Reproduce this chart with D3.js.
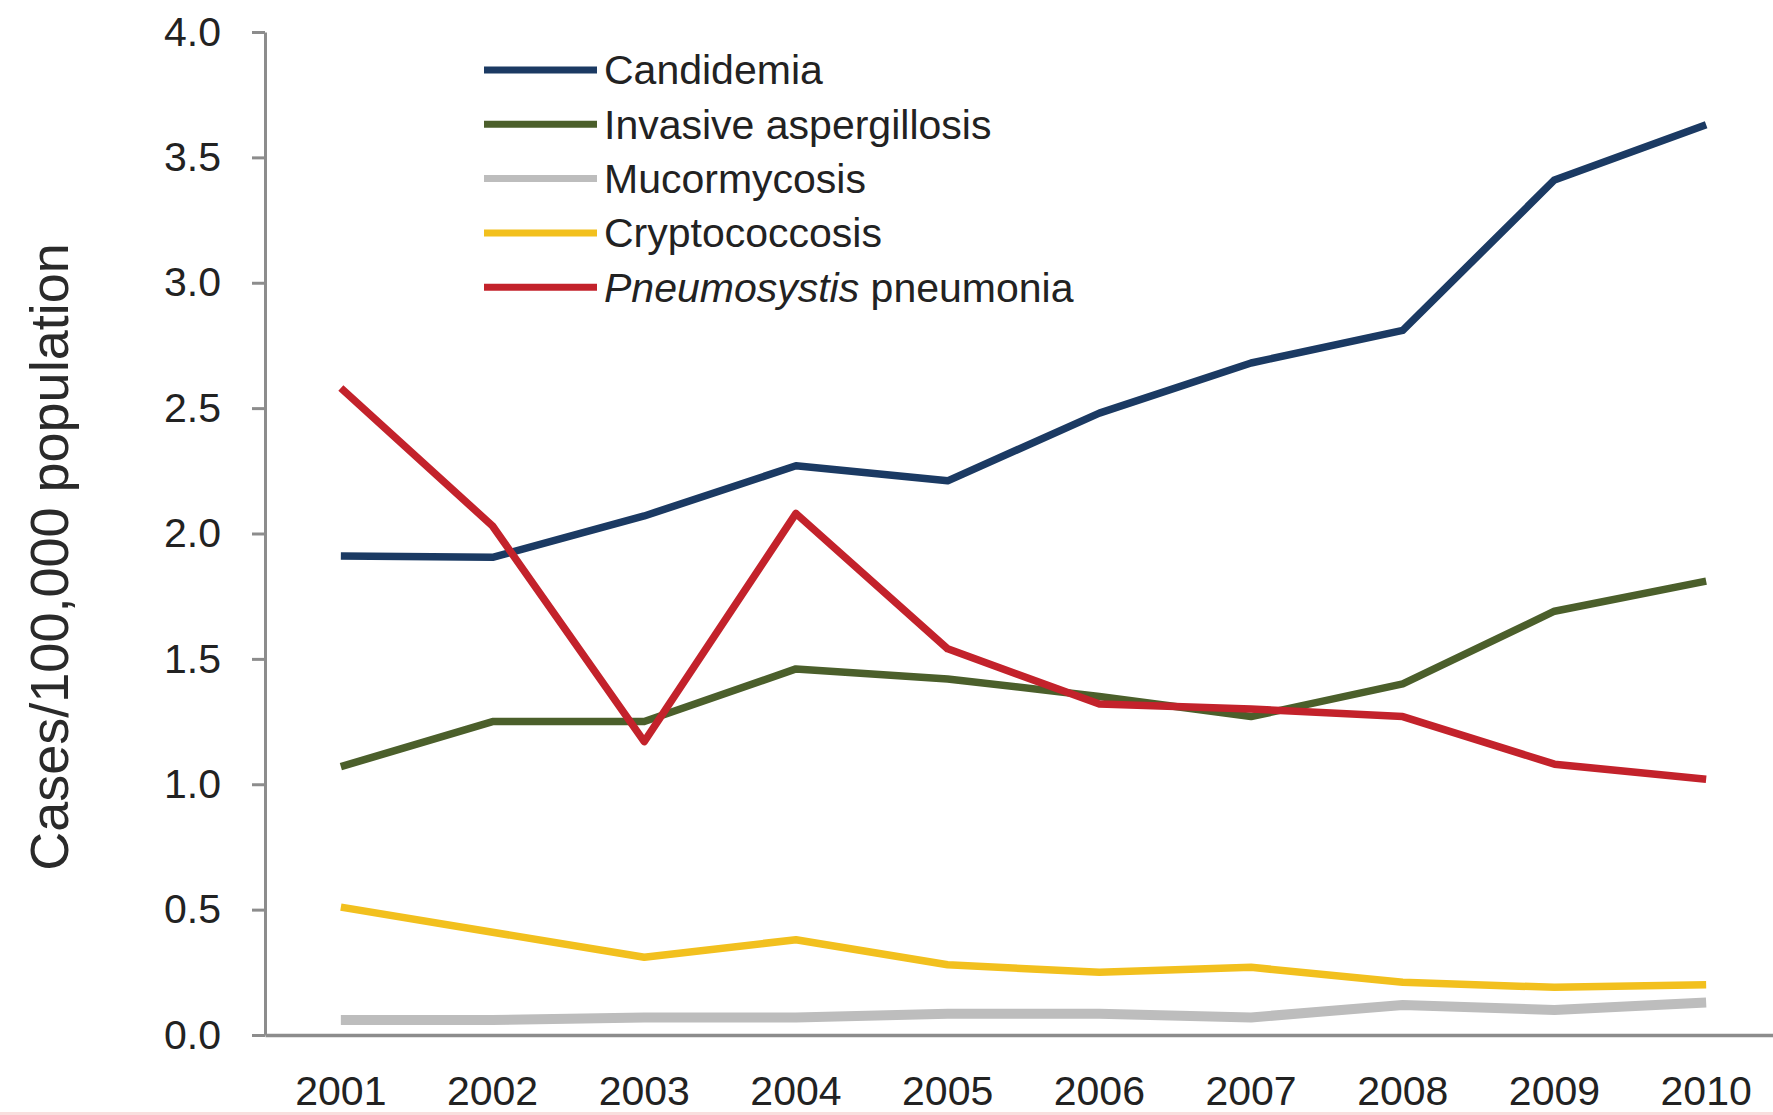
<!DOCTYPE html>
<html>
<head>
<meta charset="utf-8">
<script src="https://cdn.jsdelivr.net/npm/d3@7"></script>
<style>
  html, body { margin:0; padding:0; background:#fff; }
  svg { display:block; font-family:"Liberation Sans", Arial, sans-serif; }
</style>
</head>
<body>
<svg id="chart" width="1773" height="1115"></svg>
<script>
// fungal infection rates, 2001-2010

const years = ["2001","2002","2003","2004","2005","2006","2007","2008","2009","2010"];
const yTicks = [0, 0.5, 1, 1.5, 2, 2.5, 3, 3.5, 4];

const candidemia    = [1.91, 1.905, 2.07, 2.27, 2.21, 2.48, 2.68, 2.81, 3.41, 3.63];
const aspergillosis = [1.07, 1.25, 1.25, 1.46, 1.42, 1.35, 1.27, 1.40, 1.69, 1.81];
const mucormycosis  = [0.06, 0.06, 0.07, 0.07, 0.085, 0.085, 0.07, 0.12, 0.10, 0.13];
const cryptococcosis= [0.51, 0.41, 0.31, 0.38, 0.28, 0.25, 0.27, 0.21, 0.19, 0.20];
const pneumocystis  = [2.58, 2.03, 1.17, 2.08, 1.54, 1.32, 1.30, 1.27, 1.08, 1.02];

const seriesNames = ["Candidemia","Invasive aspergillosis","Mucormycosis","Cryptococcosis","Pneumosystis pneumonia"];

const series = [
  { name:seriesNames[0], vals:candidemia,     color:"#1b3a63", w:7.5 },
  { name:seriesNames[1], vals:aspergillosis,  color:"#4b5f2b", w:7.5 },
  { name:seriesNames[2], vals:mucormycosis,   color:"#bdbdbd", w:10 },
  { name:seriesNames[3], vals:cryptococcosis, color:"#f2c01e", w:7.5 },
  { name:seriesNames[4], vals:pneumocystis,   color:"#c3222b", w:7.5 },
];

const svg=d3.select("#chart");
const AX_COL="#8c8c8c";
const TXT="#222";

const x=d3.scaleBand().domain(years).range([265,1782]);
const y=d3.scaleLinear().domain([0,4]).range([1035,32]);

// y axis
svg.append("g").attr("transform","translate(265,0)")
  .call(d3.axisLeft(y).tickValues(yTicks).tickFormat(d3.format(".1f"))
    .tickSize(13).tickSizeOuter(0).tickPadding(31))
  .call(a=>a.select(".domain").attr("stroke",AX_COL).attr("stroke-width",3))
  .call(a=>a.selectAll("line").attr("stroke",AX_COL).attr("stroke-width",3))
  .call(a=>a.selectAll("text").attr("fill",TXT)
    .style("font-size","41px").style("font-family","'Liberation Sans', Arial, sans-serif"));

// x axis
svg.append("g").attr("transform","translate(0,1035)")
  .call(d3.axisBottom(x).tickSize(0).tickSizeOuter(0).tickPadding(41))
  .call(a=>a.select(".domain").attr("stroke",AX_COL).attr("stroke-width",3.5))
  .call(a=>a.selectAll("text").attr("fill",TXT)
    .style("font-size","41px").style("font-family","'Liberation Sans', Arial, sans-serif"));

// y title
svg.append("text")
  .attr("transform","translate(68,557) rotate(-90)")
  .attr("text-anchor","middle").attr("fill","#2a2a2a")
  .style("font-size","54px")
  .text("Cases/100,000 population");

// series lines, gray first so others sit on top
const line=d3.line().x((d,i)=>x(years[i])+x.bandwidth()/2).y(d=>y(d));
const drawOrder=[2,3,1,0,4];
drawOrder.forEach(k=>{
  const s=series[k];
  svg.append("path").datum(s.vals)
    .attr("d",line).attr("fill","none")
    .attr("stroke",s.color).attr("stroke-width",s.w)
    .attr("stroke-linejoin","round");
});

// legend
const LX1=484, LX2=597, LY0=70, LDY=54.3;
series.forEach((s,i)=>{
  const ly=LY0+i*LDY;
  svg.append("line").attr("x1",LX1).attr("x2",LX2).attr("y1",ly).attr("y2",ly)
    .attr("stroke",s.color).attr("stroke-width",7);
  const t=svg.append("text").attr("x",LX2+7).attr("y",ly).attr("dy","0.35em")
    .attr("fill",TXT).style("font-size","41px");
  if(i===4){
    t.append("tspan").style("font-style","italic").text("Pneumosystis");
    t.append("tspan").text(" pneumonia");
  } else {
    t.text(s.name);
  }
});

// faint pink edge along the bottom of the original image
svg.append("rect").attr("x",0).attr("y",1112).attr("width",1773).attr("height",3)
  .attr("fill","#f9dede");
</script>
</body>
</html>
